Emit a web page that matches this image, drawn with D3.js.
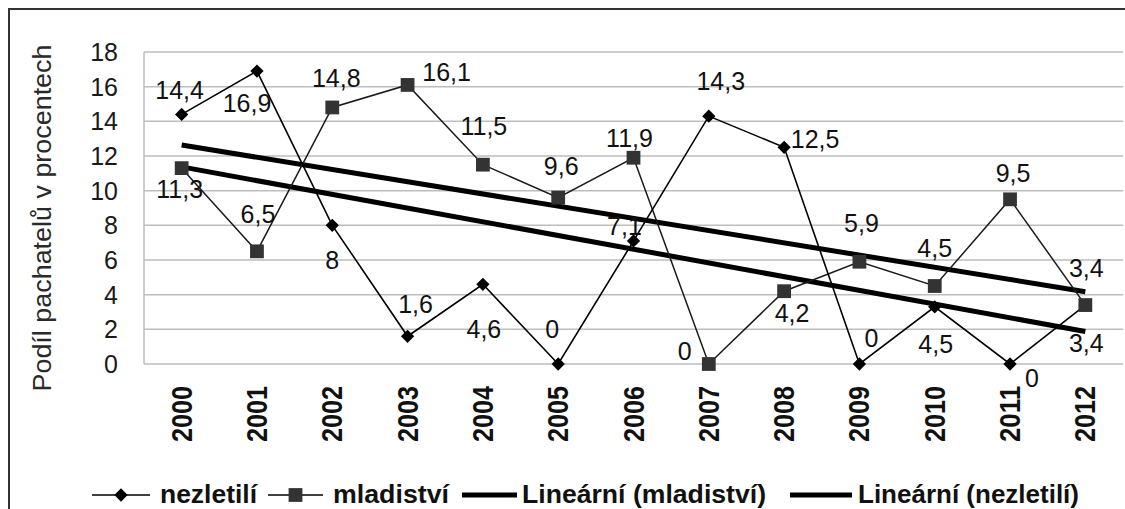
<!DOCTYPE html>
<html>
<head>
<meta charset="utf-8">
<script src="https://cdn.jsdelivr.net/npm/d3@7"></script>
<style>
  html, body { margin: 0; padding: 0; background: #fff; }
  svg { display: block; }
  text { font-family: "Liberation Sans", Arial, sans-serif; }
</style>
</head>
<body>
<svg id="chart" width="1125" height="509"></svg>
<script>
// ---- data ----
const years = ["2000","2001","2002","2003","2004","2005","2006","2007","2008","2009","2010","2011","2012"];
const nezletili = [14.4, 16.9, 8, 1.6, 4.6, 0, 7.1, 14.3, 12.5, 0, 3.3, 0, 3.4];
const mladistvi = [11.3, 6.5, 14.8, 16.1, 11.5, 9.6, 11.9, 0, 4.2, 5.9, 4.5, 9.5, 3.4];
const nezLabels = ["14,4","16,9","8","1,6","4,6","0","7,1","14,3","12,5","0","4,5","0","3,4"];
const mlaLabels = ["11,3","6,5","14,8","16,1","11,5","9,6","11,9","0","4,2","5,9","4,5","9,5","3,4"];
const yTicks = [0, 2, 4, 6, 8, 10, 12, 14, 16, 18];
const yTitle = "Podíl pachatelů v procentech";
const legendNames = ["nezletilí", "mladiství", "Lineární (mladiství)", "Lineární (nezletilí)"];

// ---- layout (label offsets from point, in px) ----
const nezLabelOffset = [[-2,-15],[-10,41],[0,44],[8,-23],[1,54],[-6,-26],[-9,-6],[12,-26],[31,1],[12,-17],[1,46],[22,23],[1,47]];
const mlaLabelOffset = [[-2,30],[1,-28],[4,-20],[39,-4],[1,-30],[3,-23],[-4,-11],[-24,-4],[8,31],[2,-30],[0,-29],[3,-17],[1,-28]];

const svg = d3.select("#chart");
const plot = { left: 144, right: 1123, top: 52, bottom: 364 };

// outer border
svg.append("rect").attr("x", 9).attr("y", 9).attr("width", 1200).attr("height", 600)
  .attr("fill", "none").attr("stroke", "#333").attr("stroke-width", 2);

const x = d3.scaleBand().domain(years).range([plot.left, plot.right]).padding(0);
const cx = d => x(d) + x.bandwidth() / 2;
const y = d3.scaleLinear().domain([0, 18]).range([plot.bottom, plot.top]);

// gridlines
svg.append("g").selectAll("line").data(yTicks).join("line")
  .attr("x1", plot.left).attr("x2", plot.right)
  .attr("y1", d => y(d)).attr("y2", d => y(d))
  .attr("stroke", "#bdbdbd").attr("stroke-width", 1.5);
// left axis line
svg.append("line").attr("x1", plot.left).attr("x2", plot.left)
  .attr("y1", y(18)).attr("y2", y(0)).attr("stroke", "#bdbdbd").attr("stroke-width", 1.5);

// y tick labels
svg.append("g").selectAll("text").data(yTicks).join("text")
  .attr("x", 118).attr("y", d => y(d)).attr("dy", "0.36em")
  .attr("text-anchor", "end").attr("font-size", 25).attr("fill", "#1a1a1a")
  .text(d => d);

// y title
svg.append("text")
  .attr("transform", "translate(51,218) rotate(-90)")
  .attr("text-anchor", "middle").attr("font-size", 25).attr("fill", "#2a2a2a")
  .attr("textLength", 347).attr("lengthAdjust", "spacingAndGlyphs")
  .text(yTitle);

// x tick labels
svg.append("g").selectAll("text").data(years).join("text")
  .attr("transform", d => `translate(${cx(d) + 10},386) rotate(-90)`)
  .attr("text-anchor", "end").attr("font-size", 30).attr("font-weight", "bold").attr("fill", "#111")
  .attr("textLength", 56).attr("lengthAdjust", "spacingAndGlyphs")
  .text(d => d);

// trend lines (least squares)
function trend(vals) {
  const xs = vals.map((v, i) => i);
  const mx = d3.mean(xs), my = d3.mean(vals);
  const b = d3.sum(xs, (xi, i) => (xi - mx) * (vals[i] - my)) / d3.sum(xs, xi => (xi - mx) ** 2);
  const a = my - b * mx;
  return [0, vals.length - 1].map(i => ({ year: years[i], v: a + b * i }));
}
const tline = d3.line().x(d => cx(d.year)).y(d => y(d.v));
[mladistvi, nezletili].forEach(vals => {
  svg.append("path").attr("d", tline(trend(vals)))
    .attr("fill", "none").attr("stroke", "#000").attr("stroke-width", 5);
});

// series lines
const sline = d3.line().x((d, i) => cx(years[i])).y(d => y(d));
svg.append("path").attr("d", sline(mladistvi)).attr("fill", "none").attr("stroke", "#1a1a1a").attr("stroke-width", 1.5);
svg.append("path").attr("d", sline(nezletili)).attr("fill", "none").attr("stroke", "#000").attr("stroke-width", 1.6);

// markers
const diamond = d3.symbol().type(d3.symbolSquare).size(88);
const square = d3.symbol().type(d3.symbolSquare).size(190);
svg.append("g").selectAll("path").data(nezletili).join("path")
  .attr("d", diamond).attr("fill", "#000")
  .attr("transform", (d, i) => `translate(${cx(years[i])},${y(d)}) rotate(45)`);
svg.append("g").selectAll("path").data(mladistvi).join("path")
  .attr("d", square).attr("fill", "#333")
  .attr("transform", (d, i) => `translate(${cx(years[i])},${y(d)})`);

// data labels
function labels(vals, texts, offs) {
  svg.append("g").selectAll("text").data(vals).join("text")
    .attr("x", (d, i) => cx(years[i]) + offs[i][0])
    .attr("y", (d, i) => y(d) + offs[i][1])
    .attr("text-anchor", "middle").attr("font-size", 25).attr("fill", "#111")
    .text((d, i) => texts[i]);
}
labels(nezletili, nezLabels, nezLabelOffset);
labels(mladistvi, mlaLabels, mlaLabelOffset);

// legend
const legY = 495, legBase = 503;
const legendItems = [
  { name: legendNames[0], x1: 92, x2: 150, mark: "diamond", tx: 160, tl: 97, sw: 1.6 },
  { name: legendNames[1], x1: 268, x2: 323, mark: "square", tx: 333, tl: 116, sw: 1.6 },
  { name: legendNames[2], x1: 462, x2: 517, mark: null, tx: 522, tl: 244, sw: 5 },
  { name: legendNames[3], x1: 790, x2: 852, mark: null, tx: 858, tl: 221, sw: 5 }
];
const lg = svg.append("g");
legendItems.forEach(it => {
  lg.append("line").attr("x1", it.x1).attr("x2", it.x2).attr("y1", legY).attr("y2", legY)
    .attr("stroke", "#000").attr("stroke-width", it.sw);
  const mx = (it.x1 + it.x2) / 2;
  if (it.mark === "diamond") {
    lg.append("path").attr("d", diamond).attr("fill", "#000")
      .attr("transform", `translate(${mx},${legY}) rotate(45)`);
  } else if (it.mark === "square") {
    lg.append("path").attr("d", square).attr("fill", "#333")
      .attr("transform", `translate(${mx},${legY})`);
  }
  lg.append("text").attr("x", it.tx).attr("y", legBase)
    .attr("font-size", 25).attr("font-weight", "bold").attr("fill", "#111")
    .attr("textLength", it.tl).attr("lengthAdjust", "spacingAndGlyphs")
    .text(it.name);
});
</script>
</body>
</html>
